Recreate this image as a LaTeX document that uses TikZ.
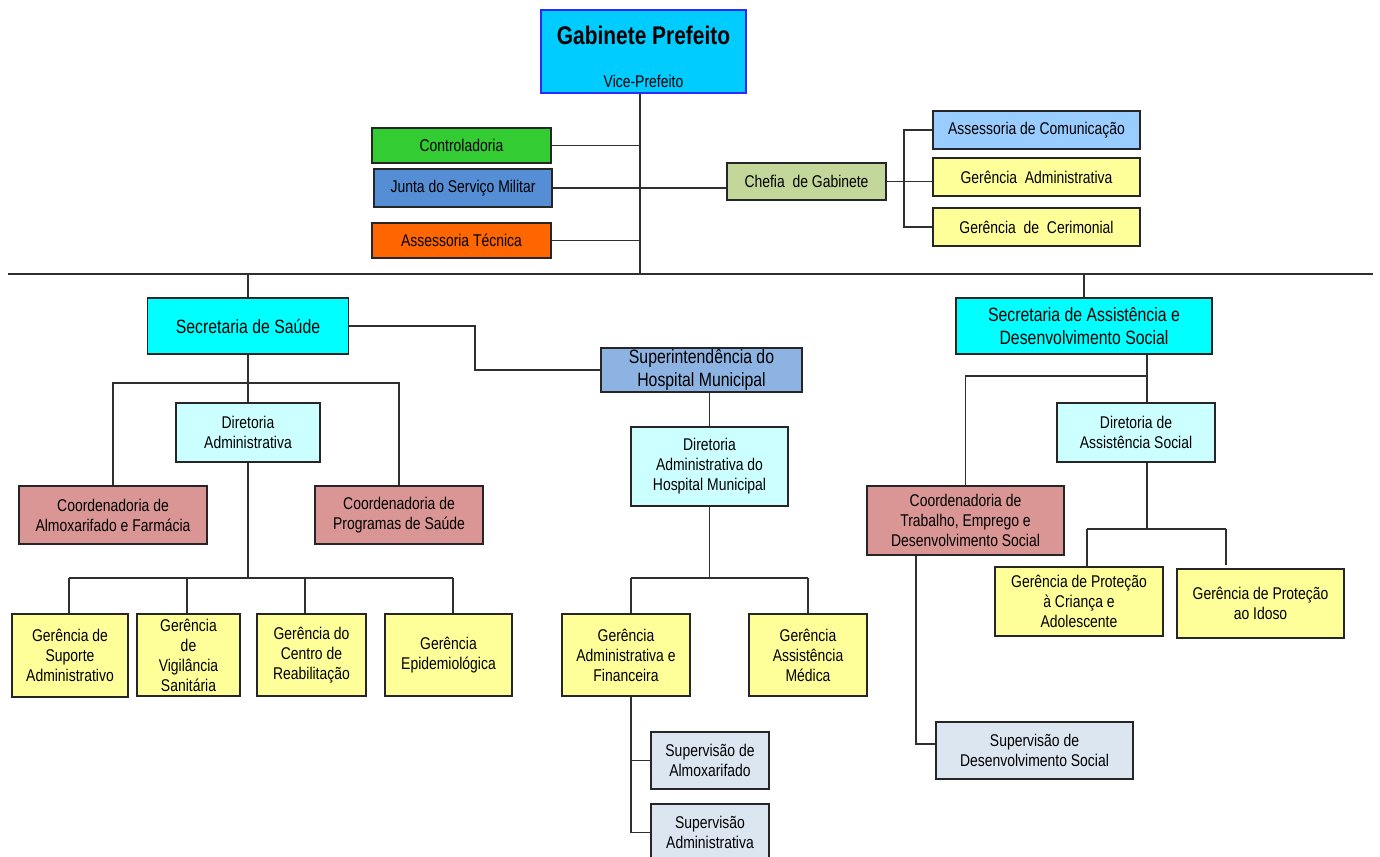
\documentclass[tikz,border=0pt]{standalone}
\usepackage{fontspec}
\setmainfont{Liberation Sans}[FakeStretch=0.82]
\definecolor{boxline}{HTML}{262626}
\definecolor{connline}{HTML}{303030}
\definecolor{cGab}{HTML}{00CCFF}
\definecolor{cGabB}{HTML}{2B2BFF}
\definecolor{cCtrl}{HTML}{33CC33}
\definecolor{cJunta}{HTML}{558ED5}
\definecolor{cTec}{HTML}{FF6600}
\definecolor{cChefia}{HTML}{C4D79B}
\definecolor{cCom}{HTML}{99CCFF}
\definecolor{cYel}{HTML}{FFFF99}
\definecolor{cSec}{HTML}{00FFFF}
\definecolor{cSup}{HTML}{8DB3E2}
\definecolor{cDir}{HTML}{CCFFFF}
\definecolor{cCoord}{HTML}{DA9694}
\definecolor{cSuperv}{HTML}{DCE6F1}
\begin{document}
\begin{tikzpicture}[x=1pt,y=-1pt,
  box/.style={draw=boxline, line width=1.4pt, inner sep=0pt, align=center,
              font=\fontsize{17}{20}\selectfont},
  bigbox/.style={box, font=\fontsize{19.3}{23}\selectfont},
  conn/.style={draw=connline, line width=1.3pt},
]
\clip (0,0) rectangle (1380,856);
\fill[white] (0,0) rectangle (1380,856);

% ---- top level
\node[box, fill=cGab, draw=cGabB, minimum width=205pt, minimum height=83pt] (gab) at (643.5,51.5) {};
\node[font=\bfseries\fontsize{25.5}{28}\selectfont, inner sep=0pt] (gabt) at (643.5,35) {Gabinete Prefeito};
\node[font=\fontsize{17}{20}\selectfont, inner sep=0pt] (gabv) at (643.5,81) {Vice-Prefeito};

\node[box, fill=cCtrl, minimum width=179pt, minimum height=35pt] (ctrl) at (461.5,145.5) {Controladoria};
\node[box, fill=cJunta, minimum width=178pt, minimum height=38pt] (junta) at (463,188) {Junta do Serviço Militar};
\node[box, fill=cTec, minimum width=179pt, minimum height=35pt] (tec) at (461.5,240.5) {Assessoria Técnica};
\node[box, fill=cChefia, minimum width=159pt, minimum height=37pt] (chefia) at (806.5,181.5) {Chefia\ \ de Gabinete};
\node[box, fill=cCom, minimum width=207pt, minimum height=38pt] (com) at (1036.5,130) {Assessoria de Comunicação};
\node[box, fill=cYel, minimum width=207pt, minimum height=38pt] (gadm) at (1036.5,177) {Gerência\ \ Administrativa};
\node[box, fill=cYel, minimum width=207pt, minimum height=38pt] (gcer) at (1036.5,227) {Gerência\ \ de\ \ Cerimonial};

\coordinate (tr) at (640,274);
\coordinate (hl) at (8,274);
\coordinate (hr) at (1373,274);
\coordinate (brk) at (904,0);

\draw[conn] (tr |- gab.south) -- (tr);
\draw[conn] (hl) -- (hr);
\draw[conn] (ctrl.east) -- (ctrl.east -| tr);
\draw[conn] (tec.east) -- (tec.east -| tr);
\draw[conn] (junta.east) -- (junta.east -| chefia.west);
\draw[conn] (chefia.east) -- (chefia.east -| gadm.west);
\draw[conn] (com.west) -- (com.west -| brk) -- (brk |- gcer.west) -- (gcer.west);

% ---- Saude
\node[bigbox, fill=cSec, minimum width=201pt, minimum height=56pt] (sau) at (248,326) {Secretaria de Saúde};
\node[bigbox, fill=cSup, minimum width=201pt, minimum height=44pt] (sup) at (701.5,370) {Superintendência do\\Hospital Municipal};
\node[box, fill=cDir, minimum width=144pt, minimum height=59pt] (dira) at (248,432.5) {Diretoria\\Administrativa};
\node[box, fill=cCoord, minimum width=188pt, minimum height=58pt] (ca) at (113,515) {Coordenadoria de\\Almoxarifado e Farmácia};
\node[box, fill=cCoord, minimum width=168pt, minimum height=58pt] (cp) at (399,515) {Coordenadoria de\\Programas de Saúde};
\node[box, fill=cYel, minimum width=116pt, minimum height=83pt] (g1) at (70,655.5) {Gerência de\\Suporte\\Administrativo};
\node[box, fill=cYel, minimum width=103pt, minimum height=82pt] (g2) at (188.5,655) {Gerência\\de\\Vigilância\\Sanitária};
\node[box, fill=cYel, minimum width=109pt, minimum height=82pt] (g3) at (311.5,655) {Gerência do\\Centro de\\Reabilitação};
\node[box, fill=cYel, minimum width=127pt, minimum height=82pt] (g4) at (448.5,655) {Gerência\\Epidemiológica};

\coordinate (sx) at (475,0);
\draw[conn] (sau.north) -- (sau.north |- tr);
\draw[conn] (sau.east) -- (sau.east -| sx) -- (sx |- sup.west) -- (sup.west);
\draw[conn] (sau.south) -- (dira.north);
\draw[conn] (ca.north) |- (248,383) -| (cp.north);
\coordinate (sb) at (248,578);
\draw[conn] (dira.south) -- (sb);
\coordinate (b1) at (69,578);
\coordinate (b2) at (187,578);
\coordinate (b3) at (305,578);
\coordinate (b4) at (453,578);
\draw[conn] (b1) -- (b4);
\draw[conn] (b1) -- (b1 |- g1.north);
\draw[conn] (b2) -- (b2 |- g2.north);
\draw[conn] (b3) -- (b3 |- g3.north);
\draw[conn] (b4) -- (b4 |- g4.north);

% ---- Hospital
\node[box, fill=cDir, minimum width=157pt, minimum height=79pt] (dirh) at (709.5,466.5) {Diretoria\\Administrativa do\\Hospital Municipal};
\node[box, fill=cYel, minimum width=128pt, minimum height=82pt] (gaf) at (626,655) {Gerência\\Administrativa e\\Financeira};
\node[box, fill=cYel, minimum width=118pt, minimum height=82pt] (gam) at (808,655) {Gerência\\Assistência\\Médica};
\node[box, fill=cSuperv, minimum width=118pt, minimum height=57pt] (salm) at (710,760.5) {Supervisão de\\Almoxarifado};
\node[box, fill=cSuperv, minimum width=118pt, minimum height=57pt] (sadm) at (710,832.5) {Supervisão\\Administrativa};

\draw[conn] (sup.south -| dirh.north) -- (dirh.north);
\coordinate (hb) at (709.5,578);
\coordinate (hb1) at (631,578);
\coordinate (hb2) at (808,578);
\draw[conn] (dirh.south) -- (hb);
\draw[conn] (hb1) -- (hb2);
\draw[conn] (hb1) -- (hb1 |- gaf.north);
\draw[conn] (hb2) -- (gam.north);
\draw[conn] (hb1 |- gaf.south) -- (hb1 |- sadm.west) -- (sadm.west);
\draw[conn] (hb1 |- salm.west) -- (salm.west);

% ---- Assistencia
\node[bigbox, fill=cSec, minimum width=256pt, minimum height=56pt] (sas) at (1084,326) {Secretaria de Assistência e\\Desenvolvimento Social};
\node[box, fill=cDir, minimum width=158pt, minimum height=59pt] (dias) at (1136,432.5) {Diretoria de\\Assistência Social};
\node[box, fill=cCoord, minimum width=197pt, minimum height=69pt] (ctr) at (965.5,520.5) {Coordenadoria de\\Trabalho, Emprego e\\Desenvolvimento Social};
\node[box, fill=cYel, minimum width=168pt, minimum height=69pt] (gpc) at (1079,601.5) {Gerência de Proteção\\à Criança e\\Adolescente};
\node[box, fill=cYel, minimum width=167pt, minimum height=69pt] (gpi) at (1260.5,603.5) {Gerência de Proteção\\ao Idoso};
\node[box, fill=cSuperv, minimum width=197pt, minimum height=57pt] (sds) at (1034.5,750.5) {Supervisão de\\Desenvolvimento Social};

\draw[conn] (sas.north) -- (sas.north |- tr);
\coordinate (ax) at (1147,376);
\draw[conn] (ax |- sas.south) -- (ax |- dias.north);
\draw[conn] (ctr.north) |- (ax);
\coordinate (ab) at (1147,529);
\coordinate (ab1) at (1087,529);
\coordinate (ab2) at (1226,529);
\draw[conn] (ax |- dias.south) -- (ab);
\draw[conn] (ab1) -- (ab2);
\draw[conn] (ab1) -- (ab1 |- gpc.north);
\draw[conn] (ab2) -- (1226,565);
\coordinate (k) at (916,744);
\draw[conn] (k |- ctr.south) -- (k) -- (k -| sds.west);
\end{tikzpicture}
\end{document}
